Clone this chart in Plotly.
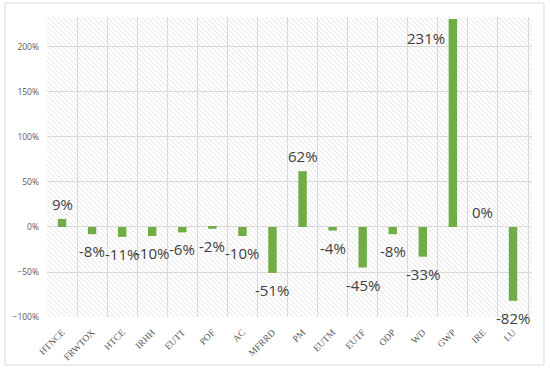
import base64
import plotly.graph_objects as go

categories = ["HTNCE", "FRWTOX", "HTCE", "IRHH", "EUTT", "POF", "AC", "MFRRD",
              "PM", "EUTM", "EUTF", "ODP", "WD", "GWP", "IRE", "LU"]
values = [0.09, -0.08, -0.11, -0.10, -0.06, -0.02, -0.10, -0.51,
          0.62, -0.04, -0.45, -0.08, -0.33, 2.31, 0.00, -0.82]
labels = ["9%", "-8%", "-11%", "-10%", "-6%", "-2%", "-10%", "-51%",
          "62%", "-4%", "-45%", "-8%", "-33%", "231%", "0%", "-82%"]
y_ticks = [-1.0, -0.5, 0.0, 0.5, 1.0, 1.5, 2.0]

W, H = 550, 369
L, R, T, B = 47, 18, 17, 52
pw, ph = W - L - R, H - T - B

# diagonal hatch background for the plot area
svg = f'''<svg xmlns="http://www.w3.org/2000/svg" width="{pw}" height="{ph}">
<defs><pattern id="p" width="3.5" height="3.5" patternUnits="userSpaceOnUse" patternTransform="rotate(-45)">
<line x1="0" y1="0" x2="0" y2="3.5" stroke="#d4d4d4" stroke-width="1"/></pattern></defs>
<rect width="100%" height="100%" fill="white"/>
<rect width="100%" height="100%" fill="url(#p)"/></svg>'''
src = "data:image/svg+xml;base64," + base64.b64encode(svg.encode()).decode()

fig = go.Figure()
fig.add_trace(go.Bar(x=categories, y=values, width=0.28,
                     marker=dict(color="#70AD47", line=dict(width=0)),
                     hoverinfo="skip"))

lab_font = dict(family="Open Sans", size=15, color="#404040")
for c, v, t in zip(categories, values, labels):
    if c == "GWP":
        fig.add_annotation(x=c, y=2.0, text=t, showarrow=False, xshift=-27, yshift=9,
                           font=lab_font)
    elif v >= 0:
        fig.add_annotation(x=c, y=v, text=t, showarrow=False, yshift=15, font=lab_font)
    else:
        fig.add_annotation(x=c, y=v, text=t, showarrow=False, yshift=-17, font=lab_font)

fig.add_layout_image(dict(source=src, xref="paper", yref="paper", x=0, y=1,
                          sizex=1, sizey=1, sizing="stretch", layer="below",
                          xanchor="left", yanchor="top"))

fig.add_shape(type="rect", xref="paper", yref="paper",
              x0=(5 - L) / pw, x1=(544 - L) / pw,
              y0=(H - B - 365) / ph, y1=(H - B - 3) / ph,
              line=dict(color="#d9d9d9", width=1), fillcolor="rgba(0,0,0,0)", layer="below")

fig.update_layout(
    width=W, height=H,
    margin=dict(l=L, r=R, t=T, b=B, autoexpand=False),
    paper_bgcolor="white", plot_bgcolor="rgba(0,0,0,0)",
    showlegend=False,
    bargap=0.72,
)
fig.update_xaxes(type="category", tickson="boundaries", showgrid=True,
                 gridcolor="#d9d9d9", gridwidth=1, ticks="", tickangle=-45,
                 tickfont=dict(family="Liberation Serif", size=9.5, color="#595959"),
                 showline=False, zeroline=False, ticklabelstandoff=7, automargin=False)
fig.update_yaxes(range=[-1.0, 2.333], tickvals=y_ticks, tickformat=".0%",
                 showgrid=True, gridcolor="#d9d9d9", gridwidth=1, zeroline=False,
                 showline=False, ticks="", automargin=False,
                 tickfont=dict(family="Open Sans", size=8.5, color="#595959"),
                 ticklabelstandoff=7)

fig.write_html("out.html", config={"displayModeBar": False},
               post_script="document.body.style.margin='0px';")
